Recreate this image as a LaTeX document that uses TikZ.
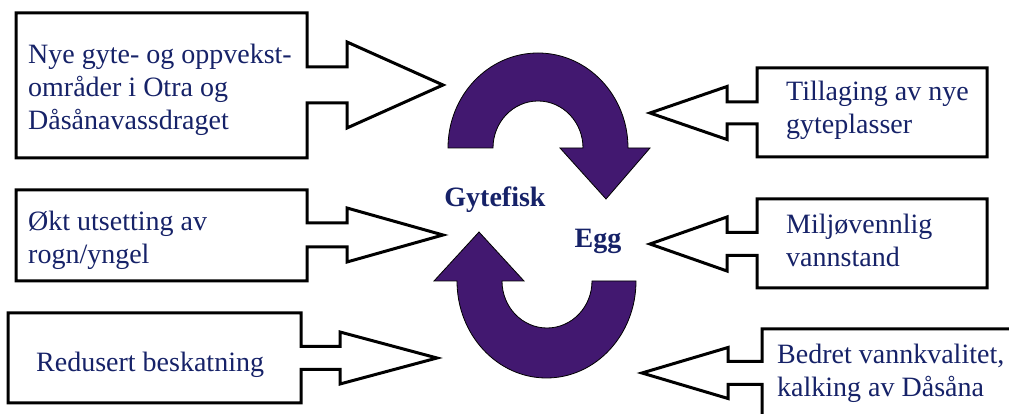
\documentclass[tikz,border=0pt]{standalone}
\usepackage{fontspec}
\setmainfont{LiberationSerif}[Extension=.ttf,UprightFont=*-Regular,BoldFont=*-Bold,
  ItalicFont=*-Italic,BoldItalicFont=*-BoldItalic]
\definecolor{navytext}{RGB}{22,34,104}
\definecolor{cyclepurple}{RGB}{66,24,112}
\begin{document}
\begin{tikzpicture}[x=1pt,y=1pt,
  calloutline/.style={draw=black,line width=3pt,fill=white,line join=miter},
  boxtext/.style={inner sep=0pt,align=left,text=navytext,
    font=\fontsize{28}{33}\selectfont},
  cyclearrow/.style={fill=cyclepurple,draw=black,line width=0.8pt,line join=miter},
  stagetext/.style={inner sep=0pt,text=navytext,font=\fontsize{28}{33}\selectfont\bfseries}]
\useasboundingbox (0,0) rectangle (1009,414);
\clip (0,0) rectangle (1009,414);

% left callouts: box with an arrow pointing right
% #1 left, #2 right, #3 top, #4 bottom, #5 centre line, #6 shaft half, #7 head half, #8 shaft end, #9 tip
\newcommand{\rightcallout}[9]{%
  \draw[calloutline] (#1,#3) -- (#2,#3) -- (#2,#5+#6) -- (#8,#5+#6) -- (#8,#5+#7)
    -- (#9,#5) -- (#8,#5-#7) -- (#8,#5-#6) -- (#2,#5-#6) -- (#2,#4) -- (#1,#4) -- cycle;}
% right callouts: box with an arrow pointing left
% #1 left, #2 right, #3 top, #4 bottom, #5 centre line, #6 shaft half, #7 head half, #8 shaft end, #9 tip
\newcommand{\leftcallout}[9]{%
  \draw[calloutline] (#2,#3) -- (#1,#3) -- (#1,#5+#6) -- (#8,#5+#6) -- (#8,#5+#7)
    -- (#9,#5) -- (#8,#5-#7) -- (#8,#5-#6) -- (#1,#5-#6) -- (#1,#4) -- (#2,#4) -- cycle;}

\rightcallout{16}{307}{401}{256}{329}{18}{43}{347}{443}
\rightcallout{16}{307}{224}{133}{179}{12}{27}{347}{443}
\rightcallout{8}{301}{101}{11}{56}{11.5}{26}{340}{437}

\leftcallout{757}{987}{346}{257}{301}{11}{26.5}{727}{650}
\leftcallout{757}{987}{215}{126}{170}{11.5}{27}{727}{650}
\leftcallout{762}{1030}{85}{-20}{41}{11.5}{25.5}{728}{642}

% callout texts
\node[boxtext,anchor=west] (omrader) at (28,324.5)
  {Nye gyte- og oppvekst-\\områder i Otra og\\Dåsånavassdraget};
\node[boxtext,anchor=west] (utsetting) at (28,174) {Økt utsetting av\\rogn/yngel};
\node[boxtext,anchor=base west] (beskatning) at (36,42) {Redusert beskatning};
\node[boxtext,anchor=west] (gyteplasser) at (786,303.5) {Tillaging av nye\\gyteplasser};
\node[boxtext,anchor=west] (vannstand) at (786,174) {Miljøvennlig\\vannstand};
\node[boxtext,anchor=west] (vannkvalitet) at (777,40.5) {Bedret vannkvalitet,\\kalking av Dåsåna};

% life cycle: upper half-ring turning down, lower half-ring turning up
\draw[cyclearrow] (448,266) arc[start angle=180,end angle=0,x radius=90,y radius=95]
  -- (650,266) -- (606,215) -- (560,266) -- (583,266)
  arc[start angle=0,end angle=180,x radius=45,y radius=47] -- cycle;
\draw[cyclearrow] (636,133) arc[start angle=0,end angle=-180,x radius=89.5,y radius=97]
  -- (434,133) -- (479,182) -- (524,133) -- (502,133)
  arc[start angle=180,end angle=360,x radius=45,y radius=47] -- cycle;

\node[stagetext,anchor=base] (gytefisk) at (495,207) {Gytefisk};
\node[stagetext,anchor=base] (egg) at (598,166) {Egg};
\end{tikzpicture}
\end{document}
